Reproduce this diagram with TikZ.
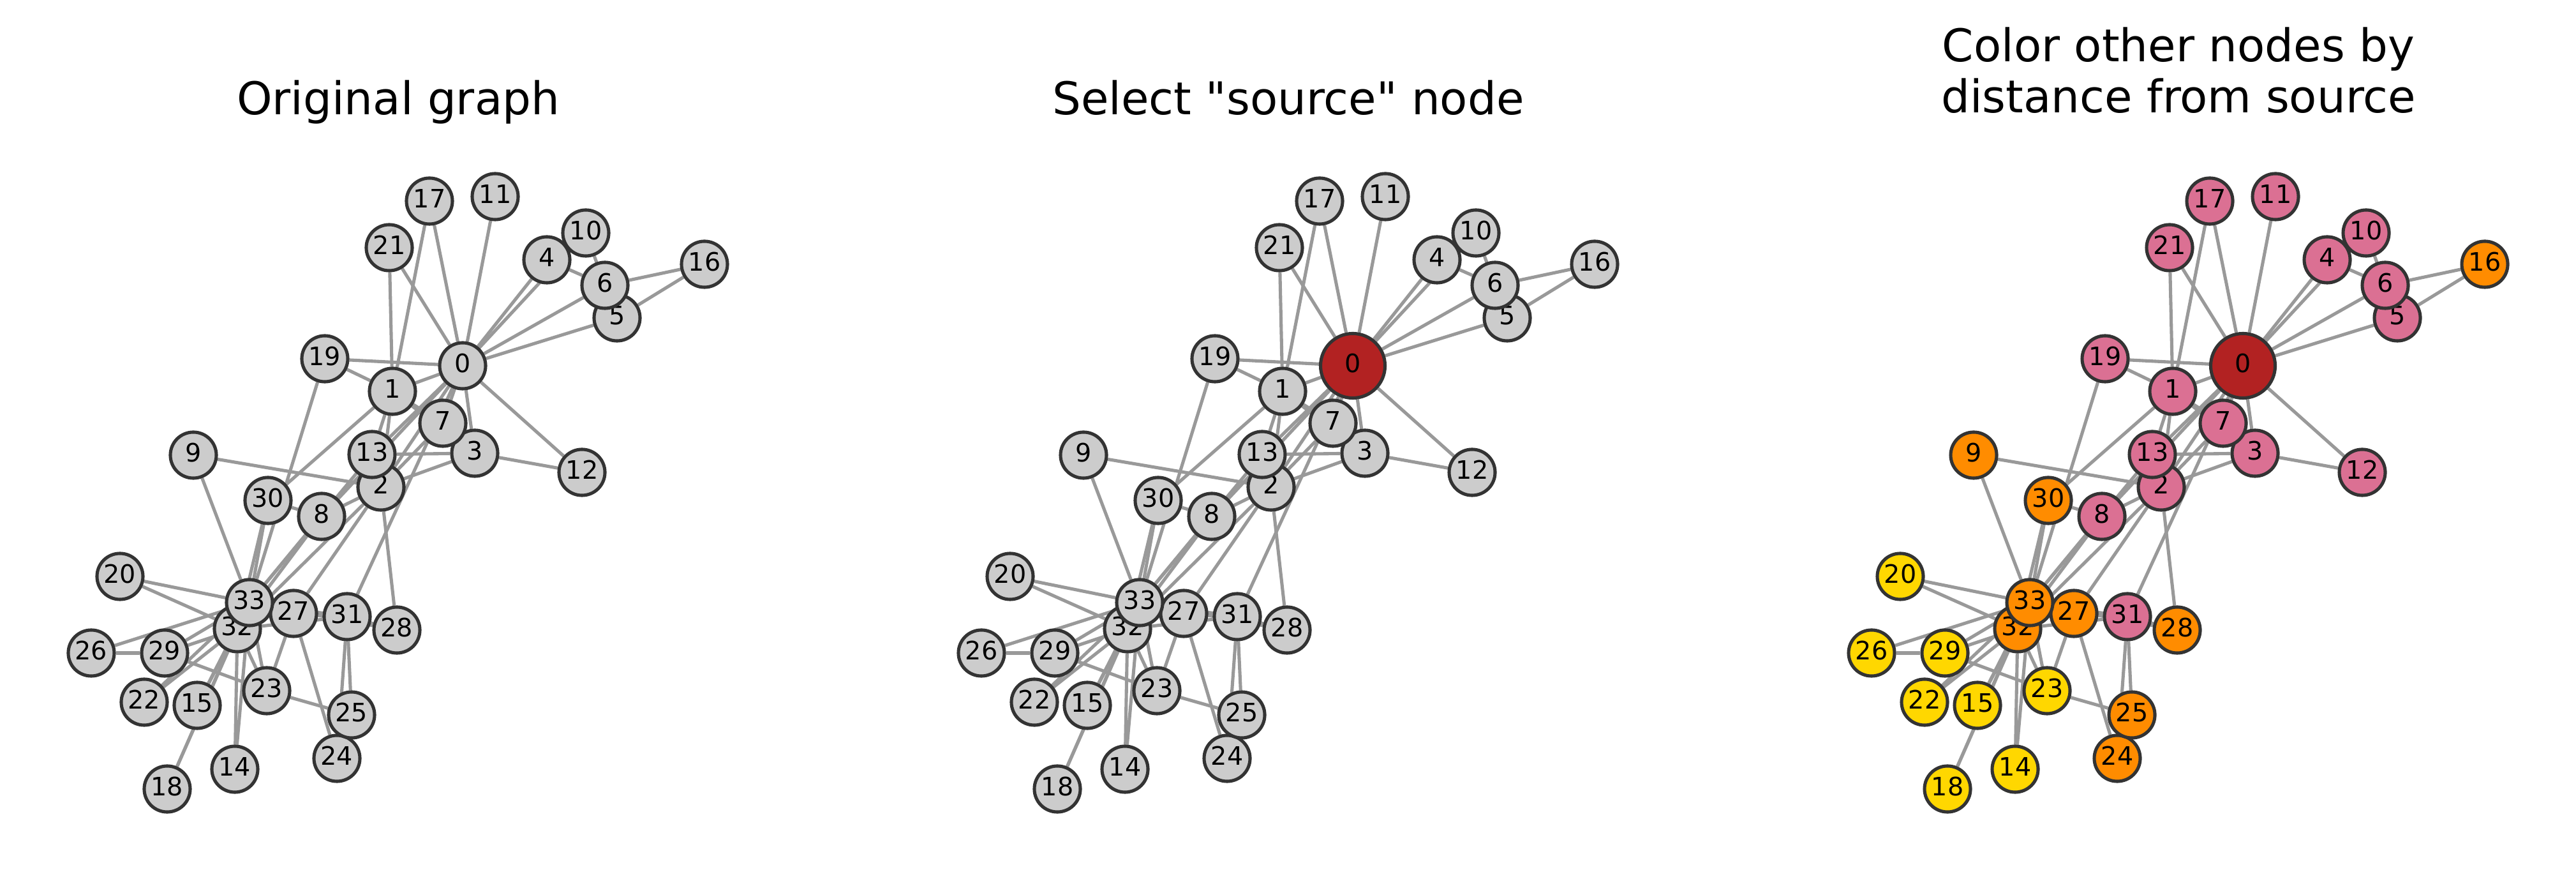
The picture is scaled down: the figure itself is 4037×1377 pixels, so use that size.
\documentclass[tikz,border=0pt]{standalone}
\usepackage{fontspec}
\setmainfont{DejaVu Sans}[Ligatures=TeXOff]
\usetikzlibrary{%
    backgrounds,
    calc,
    positioning
}
\definecolor{restgray}{RGB}{204,204,204}
\definecolor{tiegray}{RGB}{153,153,153}
\definecolor{rimgray}{RGB}{51,51,51}
\definecolor{sourcered}{RGB}{178,34,34}
\definecolor{hopone}{RGB}{219,112,147}
\definecolor{hoptwo}{RGB}{255,140,0}
\definecolor{hopthree}{RGB}{255,215,0}
% fill per panel and distance from node 0
\colorlet{hueA1}{restgray}
\colorlet{hueA2}{restgray}
\colorlet{hueA3}{restgray}
\colorlet{hueB1}{restgray}
\colorlet{hueB2}{restgray}
\colorlet{hueB3}{restgray}
\colorlet{hueC1}{hopone}
\colorlet{hueC2}{hoptwo}
\colorlet{hueC3}{hopthree}
\tikzset{member/.style = {circle, draw=rimgray, line width=1.45pt, fill=restgray,
                          minimum size=0.72cm, inner sep=0pt, text depth=0.08cm,
                          font=\fontsize{11.3}{13}\selectfont}}
\tikzset{source/.style = {member, fill=sourcered, minimum size=1.01cm}}
\tikzset{tie/.style = {draw=tiegray, line width=1.45pt}}
\tikzset{heading/.style = {anchor=base, align=center, font=\fontsize{20.1}{22.8}\selectfont}}

\begin{document}
\begin{tikzpicture}[x=0.01cm, y=-0.01cm]
    \useasboundingbox (0,0) rectangle (4037,1377);

    % titles
    \node[heading] (titleA) at (624,180) {Original graph};
    \node[heading] (titleB) at (2019,180) {Select "source" node};
    \node[heading] (titleC) at (3414,177) {Color other nodes by\\distance from source};

    % source node
    \node[member] (A0) at (725,573) {0};
    \node[source] (B0) at (725+1395,573) {0};
    \node[source] (C0) at (725+2790,573) {0};

    % other members
    \foreach \Panel/\Shift in {A/0, B/1395, C/2790}
        \foreach \Id/\X/\Y/\Hop in {%
            1/615/613/1, 2/597/763/1, 3/744/710/1, 4/857/407/1,
            5/967/498/1, 6/948/447/1, 7/694/663/1, 8/504/809/1,
            9/303/713/2, 10/918/365/1, 11/776/308/1, 12/912/740/1,
            13/583/712/1, 14/368/1205/3, 15/309/1105/3, 16/1104/414/2,
            17/673/315/1, 18/262/1236/3, 19/509/562/1, 20/188/903/3,
            21/610/388/1, 22/226/1100/3, 23/418/1082/3, 24/528/1188/2,
            25/551/1120/2, 26/143/1023/3, 27/460/961/2, 28/622/987/2,
            29/258/1023/3, 30/420/784/2, 31/544/966/1, 32/372/985/2,
            33/391/944/2%
            }
            \node[member, fill=hue\Panel\Hop] (\Panel\Id) at (\X+\Shift,\Y) {\Id};

    % edges
    \begin{scope}[on background layer]
    \foreach \Panel in {A,B,C}
        \foreach \Source/\Target in {%
            0/1, 0/2, 0/3, 0/4, 0/5, 0/6, 0/7, 0/8, 0/10, 0/11, 0/12, 0/13,
            0/17, 0/19, 0/21, 0/31,
            1/2, 1/3, 1/7, 1/13, 1/17, 1/19, 1/21, 1/30,
            2/3, 2/7, 2/8, 2/9, 2/13, 2/27, 2/28, 2/32,
            3/7, 3/12, 3/13, 4/6, 4/10, 5/6, 5/10, 5/16, 6/16,
            8/30, 8/32, 8/33, 9/33, 13/33, 14/32, 14/33, 15/32, 15/33,
            18/32, 18/33, 19/33, 20/32, 20/33, 22/32, 22/33,
            23/25, 23/27, 23/29, 23/32, 23/33, 24/25, 24/27, 24/31,
            25/31, 26/29, 26/33, 27/33, 28/31, 28/33, 29/32, 29/33,
            30/32, 30/33, 31/32, 31/33, 32/33%
            }
            \draw[tie] (\Panel\Source) -- (\Panel\Target);
    \end{scope}
\end{tikzpicture}
\end{document}
